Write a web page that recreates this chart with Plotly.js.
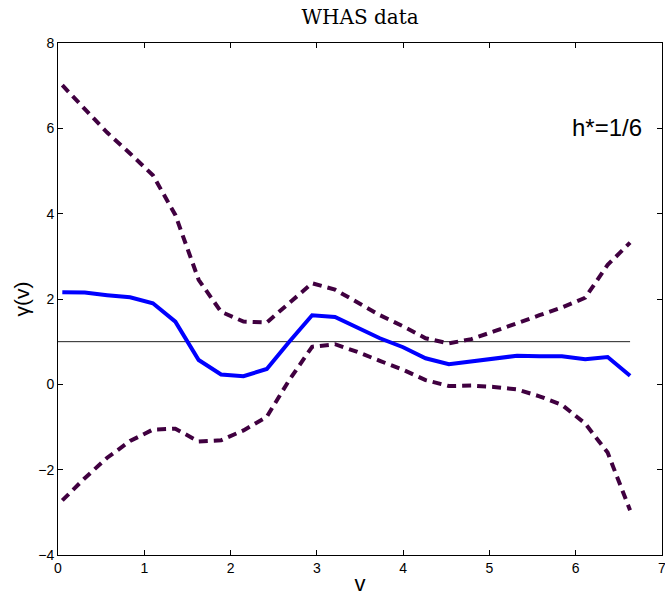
<!DOCTYPE html>
<html>
<head>
<meta charset="utf-8">
<script src="https://cdn.plot.ly/plotly-3.0.1.min.js"></script>
<style>html,body{margin:0;padding:0;background:#fff}#chart{width:665px;height:596px}</style>
</head>
<body>
<div id="chart"></div>
<script>
const v = [0.05, 0.31, 0.57, 0.835, 1.10, 1.36, 1.63, 1.89, 2.15, 2.42, 2.68, 2.945, 3.21,
           3.47, 3.73, 4.00, 4.26, 4.53, 4.79, 5.05, 5.32, 5.58, 5.84, 6.11, 6.37, 6.63];
const gammaEst = [2.16, 2.15, 2.09, 2.04, 1.90, 1.47, 0.57, 0.23, 0.19, 0.36, 1.00, 1.62, 1.58,
                  1.34, 1.08, 0.87, 0.61, 0.47, 0.53, 0.59, 0.67, 0.66, 0.66, 0.59, 0.64, 0.20];
const upperBand = [7.01, 6.46, 5.90, 5.41, 4.90, 3.97, 2.45, 1.70, 1.47, 1.45, 1.90, 2.37, 2.22,
                   1.92, 1.62, 1.36, 1.08, 0.96, 1.06, 1.24, 1.44, 1.62, 1.80, 2.03, 2.80, 3.32];
const lowerBand = [-2.72, -2.20, -1.72, -1.33, -1.06, -1.04, -1.34, -1.31, -1.08, -0.76, 0.10, 0.88, 0.94,
                   0.76, 0.55, 0.34, 0.10, -0.04, -0.03, -0.06, -0.12, -0.28, -0.48, -0.92, -1.60, -2.95];
const refX = [0, 6.63];
const refY = [1, 1];
const xTicks = [0, 1, 2, 3, 4, 5, 6, 7];
const yTicks = [-4, -2, 0, 2, 4, 6, 8];

const purple = '#400040';
const sans = 'Liberation Sans, Arial, sans-serif';
const traces = [
  {x: refX, y: refY, mode: 'lines', line: {color: '#222', width: 1}, hoverinfo: 'skip'},
  {x: v, y: upperBand, mode: 'lines', line: {color: purple, width: 4, dash: '9px,6px'}},
  {x: v, y: lowerBand, mode: 'lines', line: {color: purple, width: 4, dash: '9px,6px'}},
  {x: v, y: gammaEst, mode: 'lines', line: {color: '#0000ff', width: 4}}
];

const axisCommon = {
  showgrid: false, zeroline: false, showline: true, linecolor: '#000', linewidth: 1,
  mirror: 'ticks', ticks: 'inside', ticklen: 5, tickwidth: 1, tickcolor: '#000',
  ticklabeloverflow: 'allow',
  tickfont: {family: sans, size: 14, color: '#000'}
};

const layout = {
  width: 665, height: 596,
  margin: {l: 58, r: 3, t: 43, b: 41},
  paper_bgcolor: '#fff', plot_bgcolor: '#fff',
  showlegend: false,
  title: {text: 'WHAS data', x: 0.5415, xanchor: 'center', y: 0.972, yanchor: 'middle',
          font: {family: 'DejaVu Serif, Liberation Serif, serif', size: 20, color: '#000'}},
  xaxis: Object.assign({}, axisCommon, {
    range: [0, 7], tickvals: xTicks, ticktext: xTicks.map(String),
    title: {text: 'v', standoff: 8, font: {family: sans, size: 22, color: '#000'}}
  }),
  yaxis: Object.assign({}, axisCommon, {
    range: [-4, 8], tickvals: yTicks,
    title: {text: 'γ(v)', standoff: 2, font: {family: sans, size: 21, color: '#000'}}
  }),
  annotations: [{
    x: 6.36, y: 6.03, xref: 'x', yref: 'y', text: 'h*=1/6', showarrow: false,
    font: {family: sans, size: 24, color: '#000'}
  }]
};

Plotly.newPlot('chart', traces, layout, {displayModeBar: false, staticPlot: true});
</script>
</body>
</html>
